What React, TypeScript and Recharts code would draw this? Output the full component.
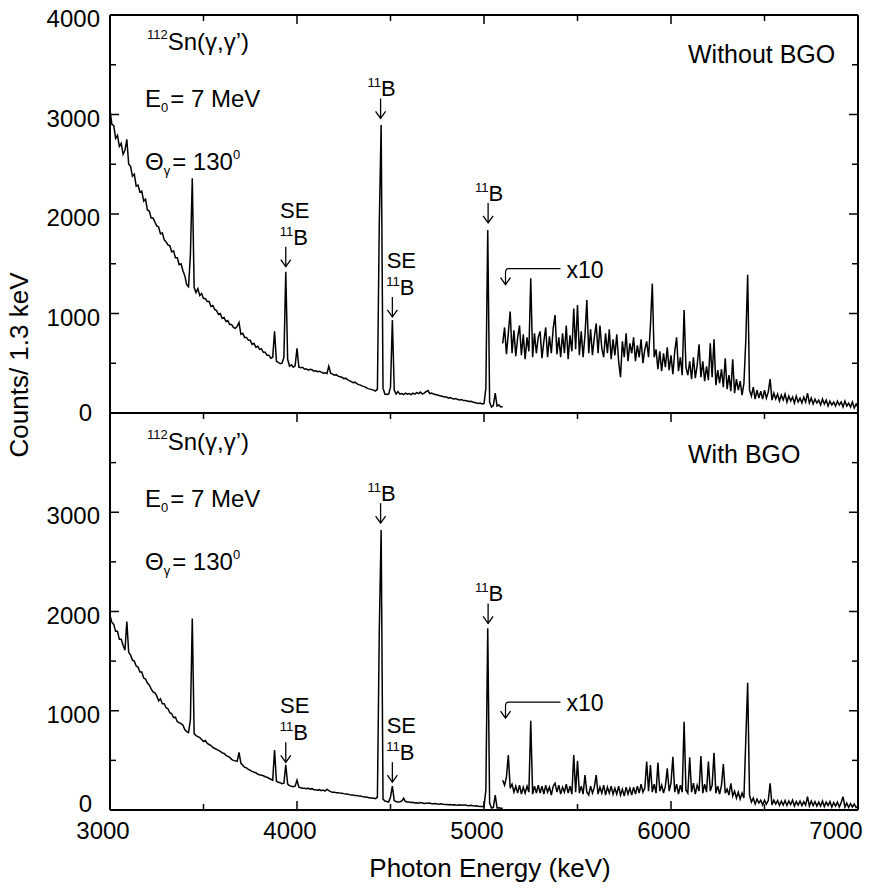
import React from "react"
import { LineChart, Line, XAxis, YAxis, ReferenceDot } from "recharts"

const FONT = "'Liberation Sans', Arial, Helvetica, sans-serif"

const STEP = 10
const LOW_START = 3000
const X10_START = 5100

// without BGO, 3000-5100 keV, counts per channel
const topLow = [
  3050, 2900, 2890, 2760, 2790, 2680, 2710, 2600, 2640, 2750,
  2500, 2480, 2380, 2400, 2280, 2290, 2220, 2230, 2130, 2150,
  2040, 2030, 1960, 1960, 1920, 1880, 1870, 1800, 1810, 1740,
  1720, 1690, 1680, 1620, 1630, 1560, 1560, 1490, 1500, 1430,
  1380, 1290, 1270, 1590, 2360, 1260, 1210, 1250, 1180, 1200,
  1150, 1150, 1120, 1120, 1070, 1080, 1040, 1030, 990, 1000,
  950, 960, 920, 930, 890, 890, 860, 850, 870, 910,
  790, 800, 760, 760, 730, 730, 690, 700, 660, 670,
  640, 645, 610, 610, 580, 580, 550, 560, 820, 520,
  510, 495, 500, 560, 1420, 540, 470, 485, 460, 475,
  650, 460, 455, 460, 440, 445, 430, 440, 435, 420,
  425, 415, 420, 410, 400, 405, 395, 470, 400, 390,
  380, 385, 370, 365, 360, 345, 350, 335, 325, 315,
  305, 310, 295, 285, 280, 270, 265, 255, 245, 240,
  235, 230, 220, 240, 1900, 2895, 250, 190, 185, 190,
  260, 935, 230, 190, 215, 190, 195, 185, 200, 190,
  195, 185, 200, 190, 205, 195, 210, 190, 200, 215,
  225, 195, 200, 190, 185, 180, 175, 170, 165, 160,
  160, 150, 155, 145, 140, 145, 135, 130, 135, 125,
  125, 120, 115, 118, 110, 105, 100, 95, 100, 90,
  95, 250, 1840, 110, 60, 75, 200, 70, 80, 60,
  65,
]

// without BGO, 5100-7000 keV, shown x10
const topX10 = [
  700, 860, 590, 800, 1020, 600, 830, 570, 760, 880,
  580, 790, 540, 760, 620, 1355, 560, 800, 600, 760,
  820, 550, 720, 860, 560, 770, 600, 850, 985, 590,
  760, 560, 800, 600, 880, 540, 780, 620, 1050, 640,
  1086, 580, 820, 560, 780, 1136, 600, 840, 580, 760,
  900, 600, 880, 650, 560, 800, 600, 840, 540, 740,
  580, 790, 520, 360, 720, 560, 800, 520, 700, 600,
  760, 520, 680, 560, 740, 500, 640, 720, 560, 880,
  1300, 560, 640, 440, 620, 420, 600, 460, 660, 430,
  580, 390, 620, 760, 420, 560, 380, 1035, 460, 380,
  520, 340, 560, 350, 480, 690, 360, 520, 320, 470,
  330, 700, 360, 740, 280, 430, 300, 440, 260, 550,
  240, 380, 220, 540, 200, 340, 230, 320, 180, 300,
  730, 1390, 230, 170, 260, 140, 230, 150, 220, 140,
  230, 150, 210, 340, 130, 200, 140, 190, 120, 180,
  130, 190, 110, 170, 120, 160, 100, 170, 110, 150,
  100, 160, 110, 200, 100, 150, 90, 140, 100, 130,
  80, 140, 90, 130, 70, 120, 80, 110, 70, 120,
  80, 110, 60, 120, 70, 100, 60, 110, 50, 90,
  60,
]

// with BGO, 3000-5100 keV
const bottomLow = [
  1960, 1890, 1870, 1800, 1800, 1720, 1720, 1660, 1610, 1900,
  1590, 1560, 1510, 1500, 1450, 1440, 1390, 1390, 1330, 1320,
  1280, 1260, 1220, 1190, 1180, 1150, 1100, 1120, 1070, 1070,
  1030, 1020, 980, 970, 930, 935, 890, 880, 870, 855,
  810, 790, 780, 910, 1930, 770, 750, 740, 730, 710,
  690, 700, 670, 660, 650, 630, 620, 610, 600, 590,
  575, 570, 550, 540, 530, 510, 500, 495, 490, 580,
  470, 450, 430, 425, 410, 400, 390, 380, 375, 360,
  355, 350, 345, 335, 330, 320, 310, 300, 605, 290,
  280, 275, 265, 270, 455, 260, 245, 240, 235, 240,
  300, 230, 225, 220, 220, 215, 220, 210, 215, 205,
  205, 200, 205, 195, 200, 190, 210, 195, 185, 180,
  180, 175, 175, 170, 168, 165, 160, 160, 155, 150,
  150, 145, 145, 140, 140, 135, 130, 130, 125, 120,
  120, 118, 115, 130, 1800, 2820, 110, 90, 85, 80,
  130, 240, 95, 85, 80, 84, 90, 118, 85, 80,
  80, 75, 78, 70, 72, 68, 75, 70, 65, 68,
  67, 70, 64, 62, 65, 60, 58, 62, 57, 55,
  55, 52, 56, 50, 53, 50, 48, 52, 47, 50,
  50, 46, 44, 48, 42, 40, 43, 38, 36, 35,
  34, 200, 1830, 70, 20, 25, 150, 20, 22, 18,
  17,
]

// with BGO, 5100-7000 keV, shown x10
const bottomX10 = [
  300, 250, 330, 554, 220, 260, 180, 240, 170, 250,
  160, 230, 170, 240, 180, 900, 160, 240, 170, 250,
  170, 240, 160, 250, 180, 230, 150, 240, 270, 180,
  250, 160, 230, 180, 260, 170, 240, 160, 554, 180,
  497, 170, 240, 160, 352, 180, 150, 240, 170, 230,
  352, 160, 230, 170, 250, 150, 230, 170, 240, 160,
  220, 160, 240, 150, 210, 140, 230, 160, 220, 150,
  230, 160, 240, 170, 260, 180, 220, 487, 190, 453,
  180, 260, 170, 477, 190, 250, 170, 240, 420, 190,
  270, 537, 180, 260, 160, 250, 180, 890, 200, 170,
  530, 180, 270, 160, 250, 190, 544, 170, 260, 180,
  487, 190, 250, 577, 170, 240, 160, 250, 463, 170,
  210, 150, 269, 140, 190, 120, 180, 110, 170, 120,
  712, 1282, 150, 80, 120, 60, 110, 70, 100, 50,
  100, 60, 95, 269, 50, 100, 60, 95, 45, 90,
  50, 95, 45, 90, 55, 100, 40, 85, 50, 90,
  45, 85, 50, 134, 40, 90, 45, 85, 40, 80,
  40, 90, 35, 80, 45, 85, 30, 75, 40, 80,
  30, 75, 134, 30, 70, 25, 65, 30, 60, 25,
  35,
]

const xTicks = [3000, 3500, 4000, 4500, 5000, 5500, 6000, 6500, 7000]
const yTicks = [0, 500, 1000, 1500, 2000, 2500, 3000, 3500, 4000]

type Note = { e: number; tip: number; se?: boolean }

// arrows: peak energy and the counts level of the arrow tip
const topNotes: Note[] = [
  { e: 3940, tip: 1470, se: true },
  { e: 4447, tip: 2960 },
  { e: 4510, tip: 965, se: true },
  { e: 5022, tip: 1910 },
]
const bottomNotes: Note[] = [
  { e: 3940, tip: 480, se: true },
  { e: 4447, tip: 2890 },
  { e: 4510, tip: 280, se: true },
  { e: 5022, tip: 1880 },
]
const topX10Mark = { e: 5115, tip: 1290 }
const bottomX10Mark = { e: 5115, tip: 925 }

const toPoints = (start: number, counts: number[]) =>
  counts.map((c, i) => ({ e: start + i * STEP, c }))

const txt = { fontFamily: FONT, fill: "#000" }

function xTick(dir: number, labels: boolean) {
  return (props: any) => {
    const { x, y, payload } = props
    const v = payload.value
    const major = v % 1000 === 0
    return (
      <g>
        <line x1={x} x2={x} y1={y} y2={y + dir * (major ? 9 : 6)} stroke="#000" strokeWidth={1.5} />
        {labels && major && (
          <text x={x - (v === 7000 ? 22 : 7)} y={y + 29} textAnchor="middle" fontSize={24} {...txt}>
            {v}
          </text>
        )}
      </g>
    )
  }
}

function yTick(dir: number, maxLabel: number, zeroDy: number) {
  return (props: any) => {
    const { x, y, payload } = props
    const v = payload.value
    const major = v % 1000 === 0
    const show = dir > 0 && major && v <= maxLabel
    return (
      <g>
        <line x1={x} x2={x + dir * (major ? 9 : 6)} y1={y} y2={y} stroke="#000" strokeWidth={1.5} />
        {show && (
          <text x={v === 0 ? x - 18 : x - 10} y={y + (v === 0 ? zeroDy : 12)} textAnchor="end" fontSize={24} {...txt}>
            {v}
          </text>
        )}
      </g>
    )
  }
}

const noteShape = (se?: boolean) => (props: any) => {
  const { cx, cy } = props
  return (
    <g>
      <line x1={cx} x2={cx} y1={cy - 20} y2={cy} stroke="#000" strokeWidth={1.3} />
      <polyline points={`${cx - 5},${cy - 7} ${cx},${cy} ${cx + 5},${cy - 7}`} fill="none" stroke="#000" strokeWidth={1.3} />
      <text x={cx + (se ? 8 : 1)} y={cy - 22} textAnchor="middle" fontSize={22} {...txt}>
        <tspan fontSize={13} dy={-9}>11</tspan>
        <tspan dy={9}>B</tspan>
      </text>
      {se && (
        <text x={cx + 9} y={cy - 49} textAnchor="middle" fontSize={22} {...txt}>
          SE
        </text>
      )}
    </g>
  )
}

const x10Shape = (props: any) => {
  const { cx, cy } = props
  return (
    <g>
      <path d={`M${cx + 55},${cy - 16} L${cx + 3},${cy - 16} Q${cx},${cy - 16} ${cx},${cy - 12} L${cx},${cy}`} fill="none" stroke="#000" strokeWidth={1.2} />
      <polyline points={`${cx - 5},${cy - 7} ${cx},${cy} ${cx + 5},${cy - 7}`} fill="none" stroke="#000" strokeWidth={1.3} />
      <text x={cx + 61} y={cy - 7} fontSize={23} {...txt}>
        x10
      </text>
    </g>
  )
}

type PanelProps = {
  low: number[]
  x10: number[]
  notes: Note[]
  mark: { e: number; tip: number }
  height: number
  margin: { top: number; right: number; bottom: number; left: number }
  bottomAxis: boolean
  maxLabel: number
  zeroDy: number
}

const frame = { stroke: "#000", strokeWidth: 2 }

function Panel({ low, x10, notes, mark, height, margin, bottomAxis, maxLabel, zeroDy }: PanelProps) {
  return (
    <div style={{ position: "absolute", left: 0, top: 0 }}>
      <LineChart width={884} height={height} margin={margin}>
        <XAxis
          xAxisId="top"
          orientation="top"
          dataKey="e"
          type="number"
          domain={[3000, 7000]}
          ticks={xTicks}
          interval={0}
          height={1}
          tickSize={0}
          tickMargin={0}
          tickLine={false}
          axisLine={frame}
          tick={xTick(1, false)}
          allowDataOverflow
        />
        {bottomAxis && (
          <XAxis
            xAxisId="bottom"
            orientation="bottom"
            dataKey="e"
            type="number"
            domain={[3000, 7000]}
            ticks={xTicks}
            interval={0}
            height={1}
            tickSize={0}
            tickMargin={0}
            tickLine={false}
            axisLine={frame}
            tick={xTick(-1, true)}
            allowDataOverflow
          />
        )}
        <YAxis
          yAxisId="left"
          orientation="left"
          type="number"
          domain={[0, 4000]}
          ticks={yTicks}
          interval={0}
          width={1}
          tickSize={0}
          tickMargin={0}
          tickLine={false}
          axisLine={frame}
          tick={yTick(1, maxLabel, zeroDy)}
          allowDataOverflow
        />
        <YAxis
          yAxisId="right"
          orientation="right"
          type="number"
          domain={[0, 4000]}
          ticks={yTicks}
          interval={0}
          width={1}
          tickSize={0}
          tickMargin={0}
          tickLine={false}
          axisLine={frame}
          tick={yTick(-1, maxLabel, zeroDy)}
          allowDataOverflow
        />
        <Line
          xAxisId="top"
          yAxisId="left"
          data={toPoints(LOW_START, low)}
          dataKey="c"
          type="linear"
          stroke="#000"
          strokeWidth={1.5}
          dot={false}
          isAnimationActive={false}
        />
        <Line
          xAxisId="top"
          yAxisId="left"
          data={toPoints(X10_START, x10)}
          dataKey="c"
          type="linear"
          stroke="#000"
          strokeWidth={1.5}
          dot={false}
          isAnimationActive={false}
        />
        {notes.map((n) => (
          <ReferenceDot
            key={n.e}
            xAxisId="top"
            yAxisId="left"
            x={n.e}
            y={n.tip}
            ifOverflow="visible"
            shape={noteShape(n.se)}
          />
        ))}
        <ReferenceDot xAxisId="top" yAxisId="left" x={mark.e} y={mark.tip} ifOverflow="visible" shape={x10Shape} />
      </LineChart>
    </div>
  )
}

function PanelText({ y0, title }: { y0: number; title: string }) {
  return (
    <g fontSize={24} {...txt}>
      <text x={147} y={y0 + 50}>
        <tspan fontSize={13} dy={-11}>112</tspan>
        <tspan dy={11}>Sn(γ,γ’)</tspan>
      </text>
      <text x={145} y={y0 + 107}>
        E<tspan fontSize={13} dy={5}>0</tspan>
        <tspan dy={-5} dx={2}>= 7 MeV</tspan>
      </text>
      <text x={145} y={y0 + 170}>
        Θ<tspan fontSize={13} dy={5}>γ</tspan>
        <tspan dy={-5} dx={2}>= 130</tspan>
        <tspan fontSize={13} dy={-11}>0</tspan>
      </text>
      <text x={688} y={y0 + 63} fontSize={25}>
        {title}
      </text>
    </g>
  )
}

export default function App() {
  return (
    <div style={{ position: "absolute", left: 0, top: 0, width: 884, height: 894, background: "#fff" }}>
      <Panel
        low={topLow}
        x10={topX10}
        notes={topNotes}
        mark={topX10Mark}
        height={440}
        margin={{ top: 14, right: 25, bottom: 27, left: 109 }}
        bottomAxis={false}
        maxLabel={4000}
        zeroDy={8}
      />
      <Panel
        low={bottomLow}
        x10={bottomX10}
        notes={bottomNotes}
        mark={bottomX10Mark}
        height={894}
        margin={{ top: 412, right: 25, bottom: 83, left: 109 }}
        bottomAxis={true}
        maxLabel={3000}
        zeroDy={2}
      />
      <svg width={884} height={894} style={{ position: "absolute", left: 0, top: 0, pointerEvents: "none" }}>
        <PanelText y0={0} title="Without BGO" />
        <PanelText y0={400} title="With BGO" />
        <text x={490} y={877} textAnchor="middle" fontSize={26} {...txt}>
          Photon Energy (keV)
        </text>
        <text x={28} y={365} transform="rotate(-90 28 365)" textAnchor="middle" fontSize={26} {...txt}>
          Counts/ 1.3 keV
        </text>
      </svg>
    </div>
  )
}
